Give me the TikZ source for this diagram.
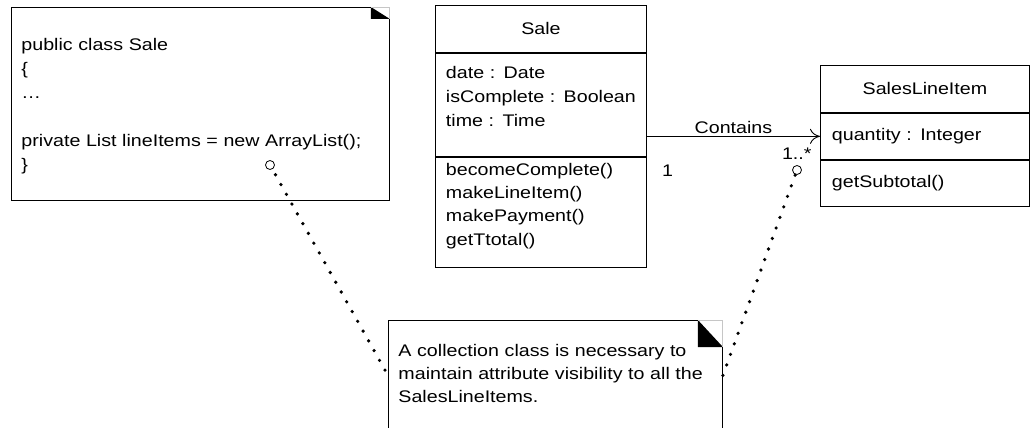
\documentclass[tikz,border=0pt]{standalone}
\usepackage{fontspec}
\setmainfont{Liberation Sans}[FakeStretch=1.17]
\usepackage{tikz}
\usetikzlibrary{positioning,arrows.meta}

\begin{document}
\begin{tikzpicture}[x=1pt, y=-1pt, line width=0.9pt,
    font=\fontsize{16.8}{24}\selectfont,
    clshead/.style = {draw, inner sep=0pt},
    clspart/.style = {draw, inner ysep=0pt, align=left},
    notebox/.style = {inner ysep=0pt, align=left, anchor=north west},
    foldline/.style = {draw=gray!45},
    notelink/.style = {line width=3.6pt, line cap=round, dash pattern=on 0pt off 11.2pt},
    ring/.style = {draw, fill=white, line width=0.8pt},
    mult/.style = {inner sep=1pt}]

    \useasboundingbox (0,0) rectangle (1030,428);
    \clip (0,0) rectangle (1030,428);

    % classes
    \node[clshead, minimum width=211pt, minimum height=47pt, anchor=north west] (sale) at (435,5) {Sale};
    \node[clspart, text width=190pt, inner xsep=10.5pt, text height=25pt, text depth=78pt, below=0pt of sale] (saleattr) {date : Date\\isComplete : Boolean\\time : Time};
    \node[clspart, text width=190pt, inner xsep=10.5pt, text height=18pt, text depth=92pt, below=0pt of saleattr,
        font=\fontsize{16.8}{23.3}\selectfont] (saleops) {becomeComplete()\\makeLineItem()\\makePayment()\\getTtotal()};

    \node[clshead, minimum width=209pt, minimum height=47pt, anchor=north west] (item) at (820,65) {SalesLineItem};
    \node[clspart, text width=186pt, inner xsep=11.5pt, minimum height=46pt, below=0pt of item] (itemattr) {quantity : Integer};
    \node[clspart, text width=186pt, inner xsep=11.5pt, minimum height=46pt, below=0pt of itemattr] (itemops) {getSubtotal()};

    % notes
    \node[notebox, inner xsep=10pt, text width=358pt, text height=43pt, text depth=150pt] (codenote) at (11,7) {public class Sale\\\{\\…\\\mbox{}\\private List lineItems = new ArrayList();\\\}};
    \node[notebox, inner xsep=10pt, text width=314pt, text height=36pt, text depth=74pt,
        font=\fontsize{16.8}{23}\selectfont] (collnote) at (388,320) {A collection class is necessary to\\maintain attribute visibility to all the\\SalesLineItems.};

    \draw ([xshift=-19pt]codenote.north east) -| (codenote.south west) -| ([yshift=-12pt]codenote.north east);
    \fill ([xshift=-19pt]codenote.north east) -- ++(0,12) -- ++(19,0) -- cycle;
    \draw[foldline] ([xshift=-19pt]codenote.north east) -- (codenote.north east) -- ++(0,12);

    \draw ([xshift=-25pt]collnote.north east) -| (collnote.south west) -| ([yshift=-27pt]collnote.north east);
    \fill ([xshift=-25pt]collnote.north east) -- ++(0,27) -- ++(25,0) -- cycle;
    \draw[foldline] ([xshift=-25pt]collnote.north east) -- (collnote.north east) -- ++(0,27);

    % association
    \draw[-{Computer Modern Rightarrow[length=10pt,width=15pt]}] (saleattr.east |- itemattr.west) --
        node[midway, anchor=base, yshift=3pt] {Contains}
        node[mult, pos=0.12, anchor=base, yshift=-40pt] {1}
        node[mult, pos=1, anchor=base east, xshift=-7pt, yshift=-23pt] {1..*} (itemattr.west);

    % note anchors
    \coordinate (arrayend) at (270,165);
    \coordinate (itemsend) at (797,170);
    \draw[notelink] (arrayend) -- (collnote.west);
    \draw[notelink] (collnote.east) -- (itemsend);
    \draw[ring] (arrayend) circle[radius=4.5pt];
    \draw[ring] (itemsend) circle[radius=4.5pt];

\end{tikzpicture}
\end{document}
